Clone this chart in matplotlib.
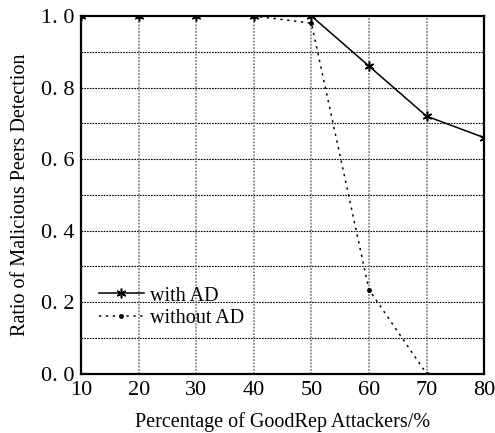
import matplotlib
matplotlib.use("Agg")
import matplotlib.pyplot as plt

# Data
attackers = [10, 20, 30, 40, 50, 60, 70, 80]
with_ad = [1.0, 1.0, 1.0, 1.0, 1.0, 0.86, 0.72, 0.66]
attackers_no_ad = [10, 20, 30, 40, 50, 60, 70]
without_ad = [1.0, 1.0, 1.0, 1.0, 0.98, 0.235, 0.0]

x_ticks = [10, 20, 30, 40, 50, 60, 70, 80]
y_ticks = [0.0, 0.2, 0.4, 0.6, 0.8, 1.0]
y_grid = [0.1, 0.2, 0.3, 0.4, 0.5, 0.6, 0.7, 0.8, 0.9]

plt.rcParams["font.family"] = ["Liberation Serif", "DejaVu Serif"]

fig = plt.figure(figsize=(4.95, 4.33), dpi=100)
ax = fig.add_axes([0.164, 0.137, 0.814, 0.826])

# grid: horizontal black dotted, vertical gray dotted
for y in y_grid:
    ax.axhline(y, color="black", linestyle=(0, (1.5, 1)), linewidth=0.8, zorder=1)
for x in x_ticks[1:-1]:
    ax.axvline(x, color="#888888", linestyle=(0, (1, 0.8)), linewidth=1.3, zorder=1)

ax.plot(attackers, with_ad, color="black", linestyle="-", linewidth=1.1,
        marker=(6, 2, 0), markersize=7, markeredgewidth=1.1, label="with AD", zorder=3)
ax.plot(attackers_no_ad, without_ad, color="black", linestyle=(0, (1.5, 3)),
        linewidth=1.1, marker="o", markersize=2.5, label="without AD", zorder=3)

ax.set_xlim(10, 80)
ax.set_ylim(0, 1.0)
ax.set_xticks(x_ticks)
ax.set_yticks(y_ticks)
ax.set_yticklabels([f"{v:.1f}".replace(".", ". ") for v in y_ticks])
ax.tick_params(length=0, labelsize=16, pad=5)
for s in ax.spines.values():
    s.set_linewidth(1.6)
ax.set_xlabel("Percentage of GoodRep Attackers/%", fontsize=14.5, labelpad=9)
ax.set_ylabel("Ratio of Malicious Peers Detection", fontsize=14.5, labelpad=8)

leg = ax.legend(loc="lower left", bbox_to_anchor=(0.0, 0.078), frameon=False,
                fontsize=14.5, handlelength=2.2, handletextpad=0.3,
                labelspacing=0.15, borderaxespad=0.5)

fig.savefig("out.png", dpi=100)
